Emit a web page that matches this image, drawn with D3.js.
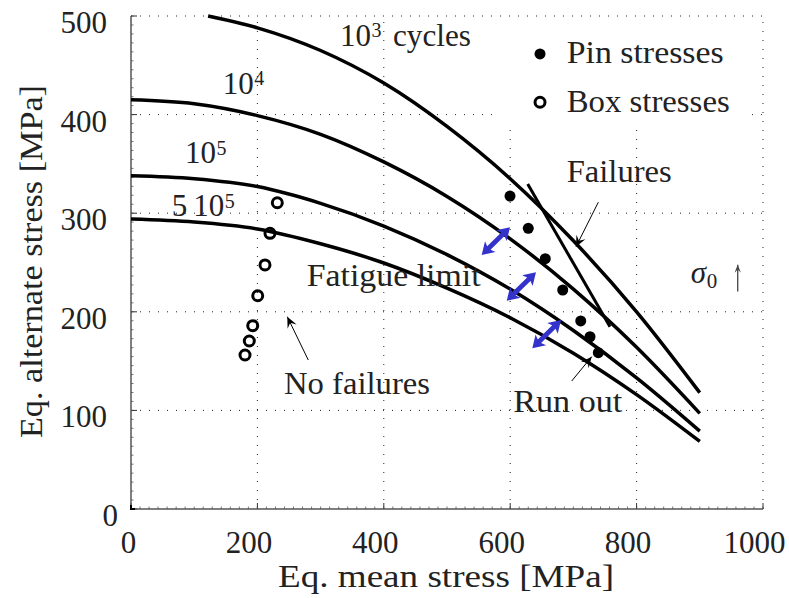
<!DOCTYPE html>
<html><head><meta charset="utf-8">
<script src="https://cdn.jsdelivr.net/npm/d3@7"></script>
<style>body{margin:0;background:#fff}svg{display:block}</style>
</head><body><svg id="c" width="789" height="598"></svg>
<script>
// ---- data ----
const xTicks = [0, 200, 400, 600, 800, 1000];
const yTicks = [0, 100, 200, 300, 400, 500];
const curveX = [0, 100, 200, 300, 400, 500, 600, 700, 800, 900];
const curve1e3X = [122, 200, 300, 400, 500, 600, 700, 800, 900];
const curve1e3 = [500, 488, 465, 432, 388, 335, 272, 200, 118];
const curve1e4 = [415, 411, 399, 380, 352, 317, 274, 223, 164, 97];
const curve1e5 = [338, 335, 327, 310, 287, 258, 223, 181, 133, 79];
const curve5e5 = [294, 291, 284, 269, 249.5, 224, 194, 158, 116, 68.5];
const pinX = [599.7, 628.6, 655.5, 683.1, 711.6, 726.3, 739.4];
const pinY = [317.4, 284.7, 253.9, 222.1, 190.7, 174.7, 158.5];
const boxX = [231.5, 219.9, 212.0, 200.5, 192.6, 187.2, 180.4];
const boxY = [310.6, 279.6, 247.5, 216.3, 185.9, 170.4, 156.2];
const failureLine = [[627.7, 329.6], [757.9, 184.9]];
const blueArrows = [
  [[554.9, 257.6], [599.7, 285.7]],
  [[594.5, 211.3], [640.8, 240.1]],
  [[635.0, 163.0], [680.4, 191.7]]
];
const noteArrows = [
  [[739.4, 311.1], [704.1, 266.0]],   // Failures
  [[697.3, 129.8], [729.0, 154.5]],   // Run out
  [[280.5, 151.1], [247.3, 195.0]],   // No failures
  [[960, 220.6], [960, 247.8]]        // sigma_0 up
];
const legendLabels = ["Pin stresses", "Box stresses"];

// ---- font pick ----
const svg = d3.select("#c");
const probe = svg.append("text").attr("font-size", 100).text("500");
const cands = ["Liberation Serif", "Times New Roman", "Tinos", "Nimbus Roman", "Times", "FreeSerif", "DejaVu Serif"];
let fam = "DejaVu Serif", scaleF = 1;
for (const c of cands) {
  probe.attr("font-family", `"${c}", monospace`);
  const w = probe.node().getComputedTextLength();
  if (Math.abs(w - 150) < 4) { fam = c; scaleF = 1; break; }
  if (c === "DejaVu Serif") { fam = c; scaleF = 150 / w; }
}
probe.remove();
const FS = s => s * scaleF;

svg.append("rect").attr("width", 789).attr("height", 598).attr("fill", "#fff");
const root = svg.append("g").attr("font-family", `"${fam}", serif`).attr("fill", "#222");
const x = d3.scaleLinear([0, 1000], [131, 763]);
const y = d3.scaleLinear([0, 500], [509, 16]);

// grid
const g = root.append("g");
g.selectAll(".gx").data(xTicks.slice(1)).join("line")
  .attr("x1", d => x(d)).attr("x2", d => x(d)).attr("y1", y(0)).attr("y2", y(500))
  .attr("stroke", "#222").attr("stroke-width", 1).attr("stroke-dasharray", "1,8");
g.selectAll(".gy").data(yTicks.slice(1)).join("line")
  .attr("y1", d => y(d)).attr("y2", d => y(d)).attr("x1", x(0)).attr("x2", x(1000))
  .attr("stroke", "#222").attr("stroke-width", 1).attr("stroke-dasharray", "1,8");

// legend background (covers grid)
root.append("rect").attr("x", x(572.8)).attr("y", y(499)).attr("width", x(979.4) - x(572.8))
  .attr("height", y(387) - y(499)).attr("fill", "#fff");

// axes
const ax = root.append("g");
const minorX = d3.range(0, 1000.1, 1000 / 70);
const minorY = d3.range(0, 500.1, 500 / 55);
ax.selectAll(".mx").data(minorX).join("line")
  .attr("x1", d => x(d)).attr("x2", d => x(d)).attr("y1", y(0)).attr("y2", y(0) - 2.5)
  .attr("stroke", "#777").attr("stroke-width", 1);
ax.selectAll(".my").data(minorY).join("line")
  .attr("y1", d => y(d)).attr("y2", d => y(d)).attr("x1", x(0)).attr("x2", x(0) + 2.5)
  .attr("stroke", "#777").attr("stroke-width", 1);
ax.selectAll(".Mx").data(xTicks).join("line")
  .attr("x1", d => x(d)).attr("x2", d => x(d)).attr("y1", y(0)).attr("y2", y(0) - 6)
  .attr("stroke", "#333").attr("stroke-width", 1);
ax.selectAll(".My").data(yTicks).join("line")
  .attr("y1", d => y(d)).attr("y2", d => y(d)).attr("x1", x(0)).attr("x2", x(0) + 6)
  .attr("stroke", "#333").attr("stroke-width", 1);
ax.append("line").attr("x1", x(0)).attr("x2", x(1000)).attr("y1", y(0)).attr("y2", y(0))
  .attr("stroke", "#555").attr("stroke-width", 1.5);
ax.append("line").attr("x1", x(0)).attr("x2", x(0)).attr("y1", y(0)).attr("y2", y(500))
  .attr("stroke", "#555").attr("stroke-width", 1.5);
ax.append("path").attr("d", `M${x(0)},${y(0) - 4}V${y(0)}H${x(0) + 4}`)
  .attr("fill", "none").attr("stroke", "#000").attr("stroke-width", 2);

// tick labels
root.selectAll(".xl").data(xTicks).join("text")
  .attr("x", d => x(d) - (d === 0 ? 2.5 : 8.5)).attr("y", 553)
  .attr("text-anchor", "middle").attr("font-size", FS(31)).text(d => d);
root.selectAll(".yl").data(yTicks).join("text")
  .attr("x", d => d === 0 ? 118 : 107).attr("y", d => y(d) + 17)
  .attr("text-anchor", "end").attr("font-size", FS(31)).text(d => d);

// axis titles
root.append("text").attr("x", 446).attr("y", 587).attr("text-anchor", "middle")
  .attr("font-size", 31).attr("textLength", 336).attr("lengthAdjust", "spacingAndGlyphs")
  .text("Eq. mean stress [MPa]");
root.append("text").attr("transform", "translate(42,261.5) rotate(-90)").attr("text-anchor", "middle")
  .attr("font-size", 31).attr("textLength", 353).attr("lengthAdjust", "spacingAndGlyphs")
  .text("Eq. alternate stress [MPa]");

// curves
const line = d3.line().x(d => x(d[0])).y(d => y(d[1])).curve(d3.curveMonotoneX);
const curves = [
  d3.zip(curve1e3X, curve1e3),
  d3.zip(curveX, curve1e4),
  d3.zip(curveX, curve1e5),
  d3.zip(curveX, curve5e5)
];
root.selectAll(".cv").data(curves).join("path")
  .attr("d", line).attr("fill", "none").attr("stroke", "#000").attr("stroke-width", 3.5);

// failures line
root.append("path").attr("d", d3.line().x(d => x(d[0])).y(d => y(d[1]))(failureLine))
  .attr("fill", "none").attr("stroke", "#000").attr("stroke-width", 3);

// blue double arrows
function dblArrow(p0, p1) {
  const a = [x(p0[0]), y(p0[1])], b = [x(p1[0]), y(p1[1])];
  const dx = b[0] - a[0], dy = b[1] - a[1], L = Math.hypot(dx, dy);
  const u = [dx / L, dy / L], n = [-u[1], u[0]];
  const h = 12, w = 7.5, s = 2.4;
  const P = (p, k1, k2) => [p[0] + u[0] * k1 + n[0] * k2, p[1] + u[1] * k1 + n[1] * k2];
  return [a, P(a, h, w), P(a, h - 2, s), P(b, -h + 2, s), P(b, -h, w), b,
    P(b, -h, -w), P(b, -h + 2, -s), P(a, h - 2, -s), P(a, h, -w)];
}
root.selectAll(".ba").data(blueArrows).join("polygon")
  .attr("points", d => dblArrow(d[0], d[1]).map(p => p.join(",")).join(" "))
  .attr("fill", "#3333cc");

// black annotation arrows
function head(p0, p1, big) {
  const a = [x(p0[0]), y(p0[1])], b = [x(p1[0]), y(p1[1])];
  const dx = b[0] - a[0], dy = b[1] - a[1], L = Math.hypot(dx, dy);
  const u = [dx / L, dy / L], n = [-u[1], u[0]];
  const hl = big ? 11 : 8, hw = big ? 5 : 3.2;
  const P = (k1, k2) => [b[0] + u[0] * k1 + n[0] * k2, b[1] + u[1] * k1 + n[1] * k2];
  return [b, P(-hl, hw), P(-hl * 0.6, 0), P(-hl, -hw)];
}
root.selectAll(".na").data(noteArrows).join("line")
  .attr("x1", d => x(d[0][0])).attr("y1", d => y(d[0][1]))
  .attr("x2", d => x(d[1][0])).attr("y2", d => y(d[1][1]))
  .attr("stroke", (d, i) => i === 3 ? "#444" : "#000").attr("stroke-width", (d, i) => i === 3 ? 1.3 : 1);
root.selectAll(".nh").data(noteArrows).join("polygon")
  .attr("points", (d, i) => head(d[0], d[1], i !== 3).map(p => p.join(",")).join(" "))
  .attr("fill", (d, i) => i === 3 ? "#444" : "#000");

// points
root.selectAll(".pin").data(d3.zip(pinX, pinY)).join("circle")
  .attr("cx", d => x(d[0])).attr("cy", d => y(d[1])).attr("r", 5.5).attr("fill", "#000");
root.selectAll(".box").data(d3.zip(boxX, boxY)).join("circle")
  .attr("cx", d => x(d[0])).attr("cy", d => y(d[1])).attr("r", 5).attr("fill", "none")
  .attr("stroke", "#000").attr("stroke-width", 3);

// legend
root.append("circle").attr("cx", x(647.2)).attr("cy", y(461.5)).attr("r", 5.5).attr("fill", "#000");
root.append("circle").attr("cx", x(647.2)).attr("cy", y(412.5)).attr("r", 5).attr("fill", "none")
  .attr("stroke", "#000").attr("stroke-width", 3);
root.selectAll(".lg").data(legendLabels).join("text")
  .attr("x", x(689.4)).attr("y", (d, i) => y([452.0, 403.0][i]))
  .attr("font-size", 31).attr("textLength", (d, i) => [157, 163][i]).attr("lengthAdjust", "spacingAndGlyphs")
  .text(d => d);

// text annotations
function txt(xv, yv, s, size, len, italic) {
  const t = root.append("text").attr("x", x(xv)).attr("y", y(yv)).attr("font-size", size).text(s);
  if (len) t.attr("textLength", len).attr("lengthAdjust", "spacingAndGlyphs");
  if (italic) t.attr("font-style", "italic");
  return t;
}
// label with superscript in one text element: parts = [text, dxPx, dyPx, size]
function multi(xv, yv, parts) {
  const t = root.append("text").attr("x", x(xv)).attr("y", y(yv));
  parts.forEach(p => {
    t.append("tspan").attr("x", x(xv) + p[1]).attr("y", y(yv) + p[2])
      .attr("font-size", p[3]).text(p[0]);
  });
  return t;
}
multi(330.7, 469.6, [["10", 0, 0, FS(31)], ["3", 31.5, -9.3, FS(20)]]);
txt(414.6, 469.6, "cycles", 31, 78);
multi(145.1, 420.9, [["10", 0, 0, FS(31)], ["4", 31.5, -9, FS(20)]]);
multi(85.4, 350.9, [["10", 0, 0, FS(31)], ["5", 31.5, -8, FS(20)]]);
multi(64.4, 297.5, [["5", 0, 0, FS(31)], ["10", 21.6, 0, FS(31)], ["5", 53, -8, FS(20)]]);
txt(278.0, 226.2, "Fatigue limit", 31, 174);
txt(242.1, 116.6, "No failures", 31, 146);
txt(604.9, 98.7, "Run out", 31, 109);
txt(689.4, 331.6, "Failures", 31, 105);
multi(885.6, 228.9, [["σ", 0, 0, 31], ["0", 16, 4.7, 21]]).select("tspan").attr("font-style", "italic");
</script></body></html>
